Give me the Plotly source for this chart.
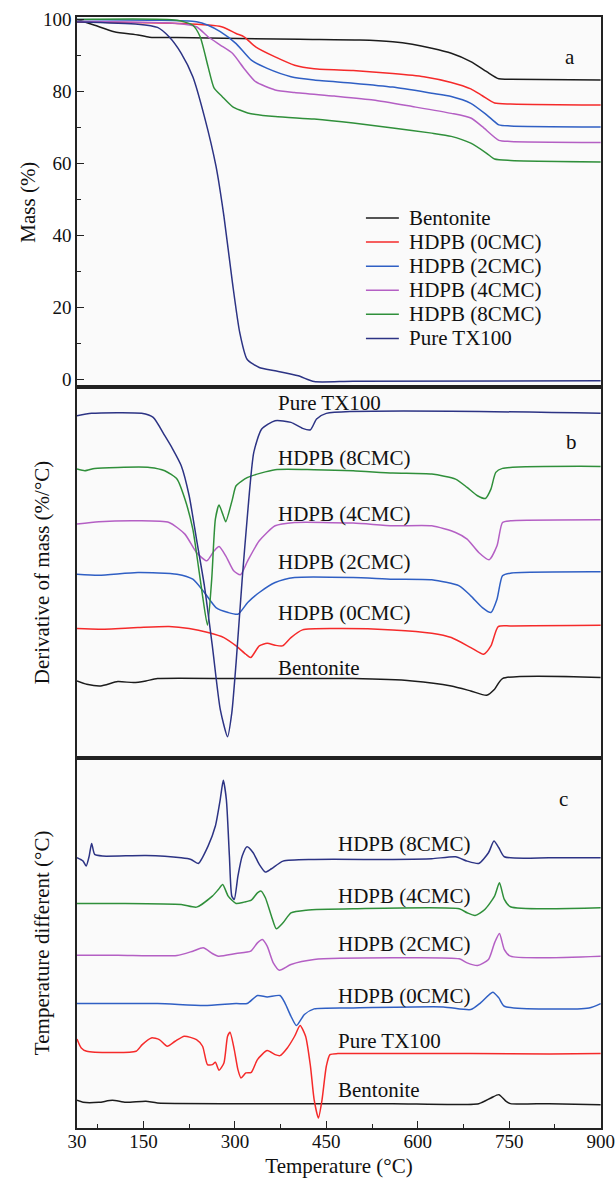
import plotly.graph_objects as go
from plotly.subplots import make_subplots

FONT = "Liberation Serif"

names = ["Bentonite", "HDPB (0CMC)", "HDPB (2CMC)", "HDPB (4CMC)", "HDPB (8CMC)", "Pure TX100"]

# ---------------- Panel a: Mass (%) ----------------
a_bent_T = [41, 70, 102, 141, 160, 205, 406, 505, 559, 591, 623, 655, 687, 713, 733, 752, 900]
a_bent_y = [100, 98.4, 96.6, 95.7, 95.1, 95.0, 94.5, 94.3, 93.8, 93.1, 92.0, 90.6, 88.3, 85.5, 83.5, 83.4, 83.2]

a_0cmc_T = [41, 160, 209, 278, 302, 315, 334, 366, 398, 430, 494, 559, 610, 655, 687, 706, 726, 752, 900]
a_0cmc_y = [99.3, 99.1, 98.9, 98.0, 96.1, 95.2, 92.4, 89.6, 87.3, 86.3, 85.8, 85.0, 84.1, 82.5, 80.7, 78.8, 76.8, 76.5, 76.2]

a_2cmc_T = [41, 160, 237, 256, 276, 302, 327, 353, 392, 430, 494, 559, 623, 655, 687, 713, 733, 752, 900]
a_2cmc_y = [100, 99.8, 99.4, 98.4, 96.6, 93.3, 88.7, 86.4, 84.1, 83.2, 82.3, 81.2, 79.5, 78.6, 76.7, 73.5, 70.7, 70.4, 70.1]

a_4cmc_T = [41, 205, 237, 256, 276, 296, 315, 334, 366, 398, 463, 527, 591, 655, 687, 706, 733, 752, 900]
a_4cmc_y = [99.5, 98.9, 98.0, 95.2, 92.9, 90.6, 86.4, 82.7, 80.4, 79.7, 78.7, 77.6, 75.8, 73.9, 72.6, 70.2, 66.4, 66.1, 65.8]

a_8cmc_T = [41, 205, 231, 243, 256, 266, 279, 296, 321, 366, 430, 494, 559, 623, 655, 687, 713, 726, 752, 900]
a_8cmc_y = [100, 99.8, 98.4, 95.2, 86.9, 80.9, 78.6, 75.8, 74.0, 73.0, 72.3, 71.2, 69.8, 68.4, 67.5, 65.6, 62.8, 61.2, 60.8, 60.4]

a_tx_T = [41, 141, 173, 192, 212, 231, 250, 269, 282, 296, 308, 320, 340, 366, 404, 430, 494, 900]
a_tx_y = [99.3, 98.7, 97.8, 95.2, 90.6, 84.1, 73.0, 59.2, 45.3, 26.8, 12.9, 5.5, 3.2, 2.3, 0.9, -0.7, -0.6, -0.5]

# ---------------- Panel b: derivative of mass (offset, arbitrary units) ----------------
b_bent_T = [41, 57, 80, 108, 134, 154, 173, 302, 494, 591, 655, 687, 713, 726, 739, 900]
b_bent_y = [23, 22, 21.5, 22.8, 22.5, 23, 23.7, 23.7, 23.7, 23, 21.5, 20, 18.7, 20.5, 23.7, 24]

b_0cmc_T = [41, 77, 141, 192, 225, 256, 282, 302, 318, 326, 340, 353, 366, 378, 392, 411, 463, 559, 623, 655, 687, 708, 720, 732, 752, 900]
b_0cmc_y = [38.7, 38.5, 39, 39.3, 38.7, 37.5, 36, 33.5, 31, 30, 33.5, 34.3, 33.7, 33.5, 36, 38.3, 38.7, 38.3, 37.3, 36, 33, 31, 33.5, 39.3, 39.5, 39.7]

b_2cmc_T = [41, 77, 141, 205, 231, 250, 269, 289, 305, 321, 340, 366, 398, 494, 559, 623, 668, 687, 706, 720, 730, 739, 752, 900]
b_2cmc_y = [55, 54.7, 55.5, 55, 53.5, 49.5, 45, 43.5, 43, 46.5, 49.5, 52.5, 54, 54, 53.5, 53.3, 51.5, 48.5, 45, 43.5, 47.5, 54.5, 55.3, 55.7]

b_4cmc_T = [41, 77, 141, 192, 218, 237, 254, 266, 274, 285, 298, 309, 321, 340, 366, 398, 494, 559, 623, 662, 681, 700, 717, 730, 739, 752, 900]
b_4cmc_y = [70, 70.7, 71, 70.5, 67, 61.5, 59, 62, 63.3, 60.5, 56, 54.8, 59, 65, 69.5, 70.5, 70.3, 69.5, 69.5, 67.5, 65.5, 61.5, 59.3, 63.5, 70.5, 71, 71.3]

b_8cmc_T = [41, 54, 70, 108, 160, 185, 205, 218, 231, 240, 247, 255, 262, 268, 274, 281, 285, 296, 302, 321, 366, 430, 494, 559, 623, 662, 681, 698, 711, 720, 728, 739, 900]
b_8cmc_y = [86.5, 86, 86.7, 87, 87, 86, 83.5, 77.5, 68.5, 57.5, 48.5, 39.7, 53.5, 71.5, 75.7, 72.5, 70.7, 77.5, 81.5, 84, 86.3, 86.3, 86, 85.3, 85, 83.5, 81, 78.5, 77.7, 80.5, 85.5, 86.7, 87.3]

b_tx_T = [41, 65, 147, 166, 185, 198, 212, 225, 237, 250, 263, 276, 288, 295, 302, 312, 321, 331, 344, 366, 392, 411, 424, 434, 450, 900]
b_tx_y = [102.5, 103.2, 103.2, 102, 96.5, 92.5, 87.5, 78.5, 65.5, 51.5, 33.5, 14.5, 6.3, 13.5, 28.5, 53.5, 73.5, 91.5, 98.5, 101, 100.5, 98.7, 98.3, 101.5, 103.2, 103.2]

# ---------------- Panel c: temperature difference (offset, arbitrary units) ----------------
c_bent_T = [41, 51, 77, 99, 121, 154, 173, 366, 559, 700, 720, 733, 745, 752, 816, 900]
c_bent_y = [8.3, 7.7, 7.7, 8.3, 7.7, 8, 7.5, 7.3, 7.3, 7.3, 9, 10, 8, 7.3, 7.3, 7]

c_tx_T = [41, 48, 57, 138, 148, 163, 176, 189, 202, 217, 237, 247, 255, 263, 268, 274, 282, 288, 292, 299, 305, 310, 318, 327, 337, 353, 366, 374, 386, 398, 407, 416, 424, 430, 437, 443, 450, 456, 469, 559, 687, 816, 900]
c_tx_y = [26.7, 24, 23, 23, 25, 27, 26.5, 24.5, 26, 27.5, 26.5, 24.5, 19, 19, 19.7, 17.3, 19.5, 27.5, 28.7, 23.5, 17.5, 15, 16.5, 16.7, 20.5, 23.2, 22, 21.7, 24, 27.5, 30.7, 27.5, 18.5, 8.5, 3, 8.5, 18.5, 22, 22.3, 22.3, 22.3, 22.2, 22.3]

c_0cmc_T = [41, 173, 250, 302, 320, 337, 353, 374, 382, 392, 401, 414, 430, 494, 642, 687, 703, 723, 733, 742, 881, 900]
c_0cmc_y = [37.3, 37.3, 36.7, 37.3, 37.3, 39.7, 39.3, 39.7, 37.5, 33.5, 30.7, 34, 35.7, 36, 36.3, 35.5, 37.5, 40.7, 39, 36.5, 36, 37.3]

c_2cmc_T = [41, 108, 205, 231, 248, 263, 273, 302, 326, 337, 345, 353, 363, 373, 392, 430, 559, 668, 681, 698, 716, 726, 734, 742, 752, 900]
c_2cmc_y = [51.8, 51.8, 51.7, 53, 54, 52.3, 51.5, 52.3, 53, 55.5, 56.5, 54.5, 49.5, 47.3, 49, 50.5, 51, 50.7, 49.5, 48.7, 50.5, 55.5, 58.3, 53.5, 51.5, 51.5]

c_4cmc_T = [41, 108, 212, 237, 263, 273, 280, 289, 302, 315, 327, 337, 343, 350, 360, 368, 379, 392, 417, 494, 668, 681, 694, 710, 726, 734, 742, 752, 900]
c_4cmc_y = [67.3, 67.3, 67, 66.2, 69.5, 71.5, 73, 69.5, 67.3, 67.7, 68.3, 70.5, 71, 69, 63.5, 59.7, 61.5, 64.5, 65.3, 65.7, 65.7, 64.5, 63.7, 65.5, 69.5, 73.5, 68.5, 66.3, 66]

c_8cmc_T = [41, 51, 56, 61, 65, 70, 83, 154, 212, 228, 240, 256, 268, 276, 281, 286, 291, 295, 299, 305, 312, 320, 330, 340, 350, 360, 379, 430, 559, 623, 662, 681, 700, 716, 725, 733, 742, 816, 900]
c_8cmc_y = [81, 80, 78.5, 81.5, 85.3, 82, 81.5, 81.7, 81, 80.5, 79.3, 84.5, 90.5, 98.5, 104.2, 98.5, 81.5, 69.5, 68.5, 75.5, 81.5, 84.3, 82.5, 79, 76.7, 77.7, 80, 80.5, 80.5, 80.7, 81.3, 80, 79.3, 82.5, 86, 84, 81.3, 81, 81]

# label positions (text) for panels b and c
b_label_y = [27, 43.5, 58.7, 73, 89.7, 106.3]      # same order as names
c_label_y = [11.3, 39.7, 55, 69.5, 85, 26.2]
b_label_T = 368
c_label_T = 466

x_ticks = [41, 150, 300, 450, 600, 750, 900]
x_ticktext = ["30", "150", "300", "450", "600", "750", "900"]
x_minor = [75, 225, 375, 525, 675, 825]

# colours
BLACK = "#1c1c1c"
RED = "#f52a2a"
BLUE = "#2f5fc4"
PURPLE = "#b45fc4"
GREEN = "#2f8f3a"
NAVY = "#2c3384"
colors_ab = [BLACK, RED, BLUE, PURPLE, GREEN, NAVY]
colors_c = [BLACK, BLUE, PURPLE, GREEN, NAVY, RED]

a_data = [(a_bent_T, a_bent_y), (a_0cmc_T, a_0cmc_y), (a_2cmc_T, a_2cmc_y),
          (a_4cmc_T, a_4cmc_y), (a_8cmc_T, a_8cmc_y), (a_tx_T, a_tx_y)]
b_data = [(b_bent_T, b_bent_y), (b_0cmc_T, b_0cmc_y), (b_2cmc_T, b_2cmc_y),
          (b_4cmc_T, b_4cmc_y), (b_8cmc_T, b_8cmc_y), (b_tx_T, b_tx_y)]
c_data = [(c_bent_T, c_bent_y), (c_0cmc_T, c_0cmc_y), (c_2cmc_T, c_2cmc_y),
          (c_4cmc_T, c_4cmc_y), (c_8cmc_T, c_8cmc_y), (c_tx_T, c_tx_y)]

fig = make_subplots(rows=3, cols=1, shared_xaxes=True, vertical_spacing=0)

LW = 1.5
for row, data, cols in [(1, a_data, colors_ab), (2, b_data, colors_ab), (3, c_data, colors_c)]:
    for i, (t, y) in enumerate(data):
        fig.add_trace(go.Scatter(x=t, y=y, mode="lines", name=names[i], showlegend=False,
                                 line=dict(color=cols[i], width=LW, shape="spline", smoothing=0.6)),
                      row=row, col=1)

txtfont = dict(family=FONT, size=21, color="#111")
annotations = []
# panel letters
annotations.append(dict(x=849, y=89.7, xref="x", yref="y", text="a", showarrow=False, font=txtfont))
annotations.append(dict(x=852, y=94.7, xref="x2", yref="y2", text="b", showarrow=False, font=txtfont))
annotations.append(dict(x=839, y=98.7, xref="x3", yref="y3", text="c", showarrow=False, font=txtfont))
for i, n in enumerate(names):
    annotations.append(dict(x=b_label_T, y=b_label_y[i], xref="x2", yref="y2", text=n, showarrow=False,
                            xanchor="left", yanchor="middle", font=txtfont))
    annotations.append(dict(x=c_label_T, y=c_label_y[i], xref="x3", yref="y3", text=n, showarrow=False,
                            xanchor="left", yanchor="middle", font=txtfont))

# manual legend in panel a
shapes = []
leg_y0, leg_step = 44.8, 6.7
for i, n in enumerate(names):
    yy = leg_y0 - i * leg_step
    shapes.append(dict(type="line", xref="x", yref="y", x0=515, x1=569, y0=yy, y1=yy,
                       line=dict(color=colors_ab[i], width=LW)))
    annotations.append(dict(x=583, y=yy, xref="x", yref="y", text=n, showarrow=False,
                            xanchor="left", yanchor="middle", font=txtfont))

title_font = dict(family=FONT, size=21, color="#111")

axis_common = dict(showline=True, linecolor="#222", linewidth=1.6, mirror=True,
                   showgrid=False, zeroline=False, automargin=False)

fig.update_xaxes(range=[41, 900.6], **axis_common)
fig.update_xaxes(row=1, col=1, showticklabels=False, ticks="")
fig.update_xaxes(row=2, col=1, showticklabels=False, ticks="")
fig.update_xaxes(row=3, col=1, tickmode="array", tickvals=x_ticks, ticktext=x_ticktext,
                 ticks="inside", ticklen=7, tickwidth=1.4, tickcolor="#222",
                 ticklabelstandoff=-5,
                 minor=dict(tickmode="array", tickvals=x_minor, ticks="inside", ticklen=4,
                            tickwidth=1.4, tickcolor="#222"),
                 tickfont=dict(family=FONT, size=19, color="#111"),
                 title=dict(text="Temperature (°C)", font=title_font, standoff=12))

fig.update_yaxes(row=1, col=1, range=[-2.3, 100.7], tickmode="array", tickvals=[0, 20, 40, 60, 80, 100],
                 ticks="inside", ticklen=7, tickwidth=1.4, tickcolor="#222",
                 minor=dict(tickmode="array", tickvals=[10, 30, 50, 70, 90], ticks="inside", ticklen=4,
                            tickwidth=1.4, tickcolor="#222"),
                 tickfont=dict(family=FONT, size=19, color="#111"),
                 title=dict(text="Mass (%)", font=title_font, standoff=2), **axis_common)
fig.update_yaxes(row=2, col=1, range=[0, 111], showticklabels=False, ticks="",
                 title=dict(text="Derivative of mass (%/°C)", font=title_font, standoff=20), **axis_common)
fig.update_yaxes(row=3, col=1, range=[0, 111], showticklabels=False, ticks="",
                 title=dict(text="Temperature different (°C)", font=title_font, standoff=20), **axis_common)

fig.update_layout(width=615, height=1178, margin=dict(l=77, r=14, t=17, b=50),
                  paper_bgcolor="white", plot_bgcolor="#fafafa",
                  font=dict(family=FONT, color="#111"),
                  annotations=annotations, shapes=shapes, showlegend=False)

fig.write_html("out.html")
